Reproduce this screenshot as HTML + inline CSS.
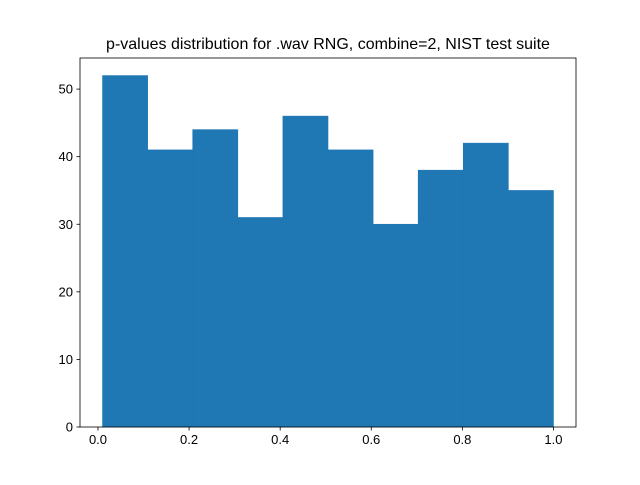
<!DOCTYPE html>
<html><head><meta charset="utf-8"><style>
body{margin:0;background:#fff;}
svg text{font-family:"Liberation Sans","DejaVu Sans",sans-serif;}
</style></head><body>
<svg id="chart" width="640" height="480">
<rect width="640" height="480" fill="#fff"/>
<text x="328" y="49" font-size="16" text-anchor="middle">p-values distribution for .wav RNG, combine=2, NIST test suite</text>
<g id="bars"></g>
<g id="axes"></g>
</svg>
<script>
const counts=[52,41,44,31,46,41,30,38,42,35];
const binStart=0.01, binEnd=1.0;
const xTicks=[0.0,0.2,0.4,0.6,0.8,1.0];
const xTickLabels=["0.0","0.2","0.4","0.6","0.8","1.0"];
const yTicks=[0,10,20,30,40,50];

const L=80,R=576,T=58,B=427;
const span=binEnd-binStart;
const xmin=binStart-span*0.05, xmax=binEnd+span*0.05;
const ymax=Math.max(...counts)*1.05;
const xs=v=>L+(v-xmin)/(xmax-xmin)*(R-L);
const ys=v=>B-v/ymax*(B-T);
const NS="http://www.w3.org/2000/svg";
function mk(tag,attrs,parent){const e=document.createElementNS(NS,tag);for(const k in attrs)e.setAttribute(k,attrs[k]);parent.appendChild(e);return e;}
const bars=document.getElementById('bars'),axes=document.getElementById('axes');
const w=span/counts.length;
counts.forEach((c,i)=>{
  const x0=xs(binStart+i*w),x1=xs(binStart+(i+1)*w);
  const r=mk('rect',{x:x0,y:ys(c),width:x1-x0,height:ys(0)-ys(c),fill:'#1f77b4',stroke:'#1f77b4','stroke-width':0.6},bars);
  
  
});
const frame=mk('rect',{x:L,y:T,width:R-L,height:B-T,fill:'none',stroke:'#000','stroke-width':0.8},axes);


xTicks.forEach((v,i)=>{
  const x=xs(v);
  mk('line',{x1:x,x2:x,y1:B,y2:B+3.5,stroke:'#000','stroke-width':0.8},axes);
  const t=mk('text',{x:x,y:B+17,'font-size':13,'text-anchor':'middle'},axes);
  t.textContent=xTickLabels[i];
  
  
});
yTicks.forEach(v=>{
  const y=ys(v);
  mk('line',{x1:L-3.5,x2:L,y1:y,y2:y,stroke:'#000','stroke-width':0.8},axes);
  const t=mk('text',{x:L-7,y:y+4.5,'font-size':13,'text-anchor':'end'},axes);
  t.textContent=String(v);
  
  
});
</script>
</body></html>
